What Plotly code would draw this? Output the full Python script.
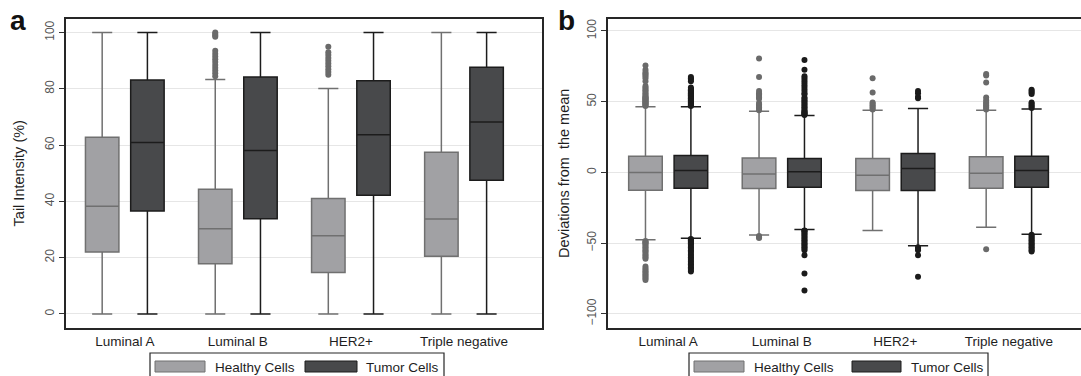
import plotly.graph_objects as go

W, H = 1081, 376

categories = ["Luminal A", "Luminal B", "HER2+", "Triple negative"]
series_names = ["Healthy Cells", "Tumor Cells"]

# ---- Panel a: Tail Intensity (%) ----
a_healthy_q1 = [22.0, 17.8, 14.7, 20.5]
a_healthy_med = [38.3, 30.3, 27.8, 33.7]
a_healthy_q3 = [62.8, 44.3, 41.0, 57.5]
a_healthy_lo = [0, 0, 0, 0]
a_healthy_hi = [100, 83.3, 80.1, 100]
a_healthy_out = [
    [],
    [84.5, 85.5, 86.5, 87.5, 88.5, 89.5, 90.5, 91.5, 92.5, 93.5, 98.5, 99.0, 99.5, 100.0],
    [85.0, 86.0, 87.0, 88.0, 89.0, 90.0, 91.0, 92.0, 93.0, 95.0],
    [],
]
a_tumor_q1 = [36.6, 33.8, 42.2, 47.5]
a_tumor_med = [60.9, 58.1, 63.7, 68.2]
a_tumor_q3 = [83.1, 84.2, 82.9, 87.7]
a_tumor_lo = [0, 0, 0, 0]
a_tumor_hi = [100, 100, 100, 100]
a_tumor_out = [[], [], [], []]

# ---- Panel b: Deviations from the mean ----
b_healthy_q1 = [-12.6, -11.4, -12.8, -11.2]
b_healthy_med = [0.0, -1.1, -2.0, -0.6]
b_healthy_q3 = [11.4, 10.2, 9.8, 11.0]
b_healthy_lo = [-47.7, -44.2, -41.1, -38.7]
b_healthy_hi = [46.5, 43.2, 43.9, 43.9]
b_healthy_out = [
    [47.0, 47.5, 48.0, 48.5, 49.0, 49.5, 50.0, 50.5, 51.0, 51.5, 52.0, 52.5, 53.0,
     53.5, 54.0, 55.0, 56.0, 57.0, 58.0, 59.0, 60.0, 61.0, 64.5, 66.5, 68.0, 69.0,
     70.0, 71.0, 72.5, 75.5,
     -48.5, -49.0, -49.5, -50.0, -51.0, -52.0, -53.0, -54.0, -55.0, -56.0, -57.0,
     -58.0, -59.0, -60.0, -61.0, -66.5, -68.0, -69.0, -70.0, -71.0, -72.0, -73.0,
     -74.0, -75.0, -76.0],
    [44.0, 45.0, 46.0, 47.0, 48.0, 49.0, 52.0, 53.0, 54.0, 55.0, 56.0, 57.5, 67.5,
     80.5, -45.0, -45.8, -46.3],
    [44.5, 45.5, 46.5, 47.5, 48.5, 49.5, 56.5, 66.5],
    [44.5, 45.5, 46.5, 47.5, 48.5, 49.5, 51.0, 53.0, 63.5, 68.5, 69.5, -54.3],
]
b_tumor_q1 = [-11.2, -10.5, -12.8, -10.5]
b_tumor_med = [1.3, 0.4, 2.7, 1.3]
b_tumor_q3 = [11.9, 9.8, 13.3, 11.4]
b_tumor_lo = [-46.5, -40.4, -51.9, -43.7]
b_tumor_hi = [46.5, 40.2, 45.1, 44.9]
b_tumor_out = [
    [47.0, 47.5, 48.0, 48.5, 49.0, 49.5, 50.0, 50.5, 51.0, 51.5, 52.0, 52.5, 53.0,
     53.5, 54.0, 54.5, 55.0, 55.5, 56.0, 56.5, 57.0, 57.5, 58.0, 58.5, 59.0, 60.0,
     64.5, 65.5, 66.5, 67.5,
     -47.0, -47.5, -48.0, -48.5, -49.0, -49.5, -50.0, -51.0, -52.0, -53.0, -54.0,
     -55.0, -56.0, -57.0, -58.0, -59.0, -60.0, -61.0, -62.0, -63.0, -64.0, -65.0,
     -66.0, -67.0, -68.0, -69.0, -70.0],
    [40.5, 41.0, 41.5, 42.0, 42.5, 43.0, 44.0, 45.0, 46.0, 47.0, 48.0, 49.0, 50.0,
     51.0, 52.0, 53.0, 55.0, 56.0, 57.5, 59.0, 60.5, 62.0, 63.5, 65.0, 66.5, 68.0,
     72.5, 79.5,
     -41.0, -41.5, -42.0, -43.0, -44.0, -45.0, -46.0, -47.0, -48.0, -49.0, -50.0,
     -51.0, -52.0, -53.0, -54.0, -55.0, -58.5, -71.5, -83.5],
    [52.5, 53.5, 56.0, 57.5, -53.0, -54.0, -55.0, -58.5, -73.8],
    [45.5, 46.5, 47.5, 48.5, 49.5, 55.5, 56.5, 57.5, 58.5,
     -44.0, -45.0, -46.0, -47.0, -48.0, -49.0, -50.0, -51.0, -52.0, -53.0, -54.0,
     -55.0, -56.0],
]

# ---- styling ----
FONT = "Liberation Sans, Arial, sans-serif"
HEALTHY_FILL, HEALTHY_LINE, HEALTHY_DOT = "#a1a1a4", "#707070", "#6a6a6a"
TUMOR_FILL, TUMOR_LINE, TUMOR_DOT = "#48494b", "#1c1c1c", "#1b1b1b"
OFFSET = 0.2
BOXW = 0.296

fig = go.Figure()

panels = [
    ("x", "y", [
        (a_healthy_q1, a_healthy_med, a_healthy_q3, a_healthy_lo, a_healthy_hi, a_healthy_out),
        (a_tumor_q1, a_tumor_med, a_tumor_q3, a_tumor_lo, a_tumor_hi, a_tumor_out),
    ]),
    ("x2", "y2", [
        (b_healthy_q1, b_healthy_med, b_healthy_q3, b_healthy_lo, b_healthy_hi, b_healthy_out),
        (b_tumor_q1, b_tumor_med, b_tumor_q3, b_tumor_lo, b_tumor_hi, b_tumor_out),
    ]),
]
styles = [
    (HEALTHY_FILL, HEALTHY_LINE, HEALTHY_DOT, -OFFSET),
    (TUMOR_FILL, TUMOR_LINE, TUMOR_DOT, OFFSET),
]

for xa, ya, series in panels:
    for (q1, med, q3, lo, hi, outs), (fill, line, dot, off), name in zip(series, styles, series_names):
        xs = [i + off for i in range(len(categories))]
        fig.add_trace(go.Box(
            x=xs, q1=q1, median=med, q3=q3, lowerfence=lo, upperfence=hi,
            name=name, width=BOXW, whiskerwidth=0.6,
            fillcolor=fill, line=dict(color=line, width=1.5),
            boxpoints=False, showlegend=False, xaxis=xa, yaxis=ya,
            hoverinfo="skip",
        ))
        ox, oy = [], []
        for i, vals in enumerate(outs):
            for v in vals:
                ox.append(i + off)
                oy.append(v)
        fig.add_trace(go.Scatter(
            x=ox, y=oy, mode="markers",
            marker=dict(color=dot, size=6, line=dict(width=0)),
            showlegend=False, xaxis=xa, yaxis=ya, hoverinfo="skip",
        ))

def px_x(p):
    return p / W

def px_y(p):
    return 1 - p / H

y_dom = [px_y(328), px_y(18.5)]
axis_common = dict(
    showline=True, mirror=True, linecolor="#262626", linewidth=1.5,
    automargin=False, zeroline=False,
)
xcommon = dict(
    axis_common, tickvals=list(range(len(categories))), ticktext=categories,
    ticks="", showgrid=False, tickfont=dict(family=FONT, size=13.5, color="#1e1e1e"),
)
ycommon = dict(
    axis_common, ticks="outside", ticklen=5, tickwidth=1, tickcolor="#333",
    tickangle=-90, showgrid=True, gridcolor="#e6e6e6", gridwidth=1,
    tickfont=dict(family=FONT, size=12, color="#555"),
)

fig.update_layout(
    width=W, height=H,
    margin=dict(l=0, r=0, t=0, b=0),
    paper_bgcolor="white", plot_bgcolor="white",
    boxmode="overlay",
    showlegend=False,
    xaxis=dict(xcommon, domain=[px_x(66), px_x(542)], range=[-0.52, 3.69], anchor="y"),
    xaxis2=dict(xcommon, domain=[px_x(608), 1.0], range=[-0.53, 3.635], anchor="y2"),
    yaxis=dict(ycommon, domain=y_dom, range=[-5, 105], tickvals=[0, 20, 40, 60, 80, 100],
               anchor="x",
               title=dict(text="Tail Intensity (%)", standoff=15,
                          font=dict(family=FONT, size=14.5, color="#1e1e1e"))),
    yaxis2=dict(ycommon, domain=y_dom, range=[-110, 108.8], tickvals=[-100, -50, 0, 50, 100],
                anchor="x2",
                title=dict(text="Deviations from  the mean", standoff=12,
                           font=dict(family=FONT, size=14.5, color="#1e1e1e"))),
)

# panel letters
for txt, cx in (("a", 18), ("b", 566)):
    fig.add_annotation(text=txt, x=px_x(cx), y=px_y(21), xref="paper", yref="paper",
                       showarrow=False, xanchor="center", yanchor="middle",
                       font=dict(family=FONT, size=28, color="#111", weight="bold"))

# custom legends (box with wide swatches)
legends = [
    (150, 444, [(155, 205, 213), (305, 357, 364)]),
    (689, 988, [(694, 744, 752), (852, 901, 909)]),
]
for left, right, items in legends:
    fig.add_shape(type="rect", xref="paper", yref="paper",
                  x0=px_x(left), x1=px_x(right), y0=px_y(384), y1=px_y(353),
                  line=dict(color="#262626", width=1.2), fillcolor="white", layer="above")
    for (s0, s1, tx), (fill, line, _, _), name in zip(items, styles, series_names):
        fig.add_shape(type="rect", xref="paper", yref="paper",
                      x0=px_x(s0), x1=px_x(s1), y0=px_y(372), y1=px_y(361),
                      line=dict(color=line, width=1), fillcolor=fill, layer="above")
        fig.add_annotation(text=name, x=px_x(tx), y=px_y(367), xref="paper", yref="paper",
                           showarrow=False, xanchor="left", yanchor="middle",
                           font=dict(family=FONT, size=13.5, color="#1e1e1e"))

fig.write_html(
    "out.html",
    config={"displayModeBar": False},
    post_script="document.body.style.margin='0';document.body.style.overflow='hidden';",
)
